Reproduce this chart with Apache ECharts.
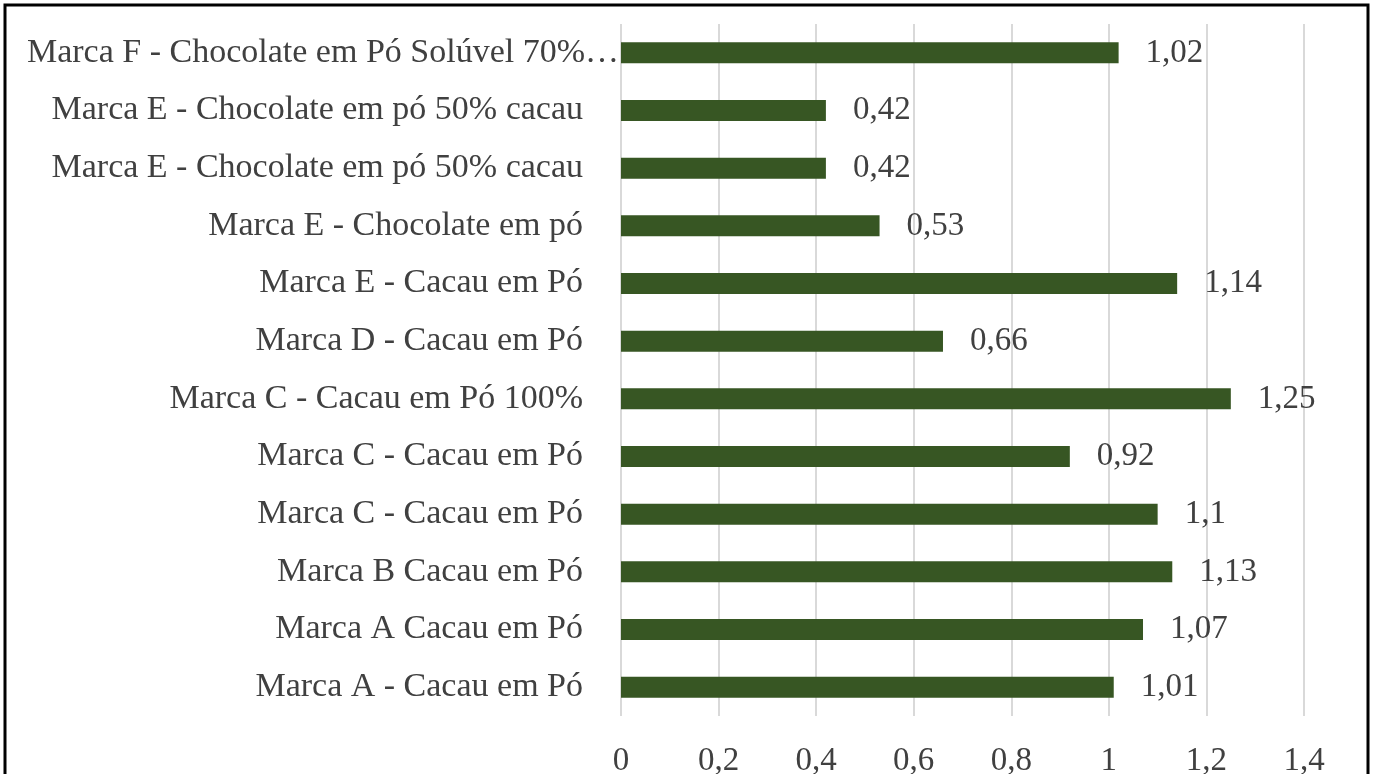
<!DOCTYPE html>
<html>
<head>
<meta charset="utf-8">
<script src="https://cdn.jsdelivr.net/npm/echarts@6/dist/echarts.min.js"></script>
<style>
  html, body { margin: 0; padding: 0; background: #fff; }
  #main { width: 1374px; height: 774px; }
</style>
</head>
<body>
<div id="main"></div>
<script>
// categories from bottom to top (echarts category axis starts at the bottom)
var categories = [
    'Marca A - Cacau em Pó',
    'Marca A Cacau em Pó',
    'Marca B Cacau em Pó',
    'Marca C - Cacau em Pó',
    'Marca C - Cacau em Pó',
    'Marca C - Cacau em Pó 100%',
    'Marca D - Cacau em Pó',
    'Marca E - Cacau em Pó',
    'Marca E - Chocolate em pó',
    'Marca E - Chocolate em pó 50% cacau',
    'Marca E - Chocolate em pó 50% cacau',
    'Marca F - Chocolate em Pó Solúvel 70% cacau'
];
var values = [1.01, 1.07, 1.13, 1.1, 0.92, 1.25, 0.66, 1.14, 0.53, 0.42, 0.42, 1.02];
var xTicks = [0, 0.2, 0.4, 0.6, 0.8, 1, 1.2, 1.4];

function comma(v) {
    return String(v).replace('.', ',');
}

var myChart = echarts.init(document.getElementById('main'));
var serif = '"Liberation Serif", "DejaVu Serif", serif';
var fs = 34;

option = {
    backgroundColor: '#fff',
    animation: false,
    graphic: [{
        type: 'rect',
        shape: { x: 5, y: 5, width: 1363, height: 772 },
        style: { fill: 'none', stroke: '#000', lineWidth: 3 }
    }],
    grid: {
        left: 621,
        right: 70,
        top: 24,
        bottom: 58,
        containLabel: false,
        outerBoundsMode: 'none'
    },
    xAxis: {
        type: 'value',
        min: xTicks[0],
        max: xTicks[xTicks.length - 1],
        interval: 0.2,
        axisLine: { show: false },
        axisTick: { show: false },
        splitLine: {
            lineStyle: { color: '#d9d9d9', width: 2 }
        },
        axisLabel: {
            margin: 29,
            color: '#404040',
            fontFamily: serif,
            fontSize: 33,
            formatter: function (v) { return comma(+v.toFixed(1)); }
        }
    },
    yAxis: {
        type: 'category',
        data: categories,
        axisLine: { show: false },
        axisTick: { show: false },
        axisLabel: {
            margin: 2,
            color: '#404040',
            fontFamily: serif,
            fontSize: fs,
            hideOverlap: false,
            formatter: function (v, i) {
                // o último rótulo é cortado como no Excel e encosta no eixo
                if (i === categories.length - 1) {
                    return '{f|' + v.slice(0, v.indexOf('%') + 1) + '…}';
                }
                return '{n|' + v + '}';
            },
            rich: {
                n: { fontFamily: serif, fontSize: fs, color: '#404040', padding: [0, 36, 0, 0] },
                f: { fontFamily: serif, fontSize: fs, color: '#404040' }
            }
        }
    },
    series: [{
        type: 'bar',
        data: values,
        barWidth: 21,
        itemStyle: { color: '#375623' },
        label: {
            show: true,
            position: 'right',
            distance: 27,
            color: '#404040',
            fontFamily: serif,
            fontSize: 33,
            formatter: function (p) { return comma(p.value); }
        }
    }]
};
myChart.setOption(option);
</script>
</body>
</html>
